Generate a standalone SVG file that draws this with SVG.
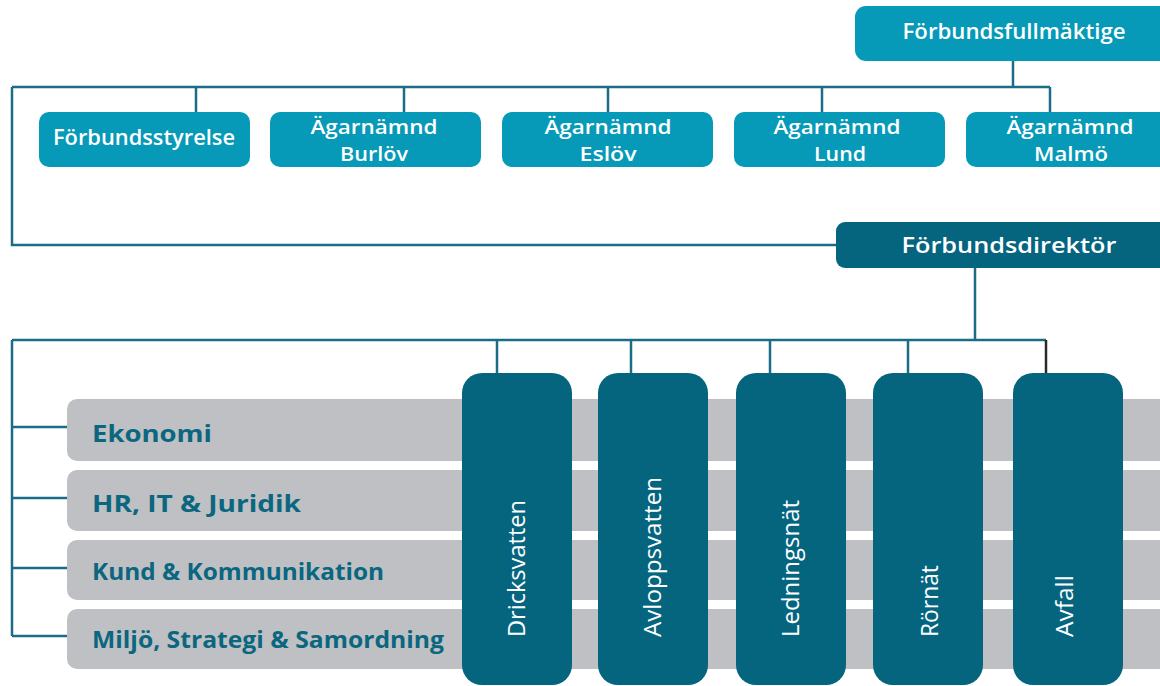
<svg xmlns="http://www.w3.org/2000/svg" width="1160" height="686" viewBox="0 0 1160 686">
<style>
.top{fill:#0699B8}
.dark{fill:#05657F}
.bar{fill:#BFC0C3}
.t{font-family:"Open Sans",Lato,sans-serif;font-weight:600;fill:#fff;font-size:21px;text-anchor:middle}
.t2{font-size:20px}
.bt{font-family:"Open Sans",Lato,sans-serif;font-weight:700;fill:#0B6680;font-size:24px}
.vt{font-family:"Open Sans",Lato,sans-serif;font-weight:500;fill:#fff;font-size:23px}
.ln{fill:none;stroke:#1C6C88;stroke-width:2.5}
</style>
<rect width="1160" height="686" fill="#fff"/>
<g id="connectors">
<path class="ln" d="M1013 61V87M12 87H1050M12 87V245H836M196 87V112M404 87V112M608 87V112M822 87V112M1050 87V112"/>
<path class="ln" d="M975 268V340M12 340H1046M12 340V636M12 427H68M12 498H68M12 568H68M12 636H68M497 340V373M631 340V373M770 340V373M908 340V373"/>
<path d="M1046 340V373" fill="none" stroke="#2a2a2a" stroke-width="2.5"/>
</g>
<g id="forbundsfullmaktige"><rect class="top" x="855" y="6" width="330" height="55" rx="11"/><text class="t" x="1014" y="39" textLength="223" lengthAdjust="spacingAndGlyphs">Förbundsfullmäktige</text></g>
<g id="forbundsstyrelse"><rect class="top" x="39" y="112" width="211" height="55" rx="10"/><text class="t" x="144" y="145" textLength="182" lengthAdjust="spacingAndGlyphs">Förbundsstyrelse</text></g>
<g id="burlov"><rect class="top" x="270" y="112" width="211" height="55" rx="10"/><text class="t t2" x="374" y="134" textLength="127" lengthAdjust="spacingAndGlyphs">Ägarnämnd</text><text class="t t2" x="374" y="161" textLength="68" lengthAdjust="spacingAndGlyphs">Burlöv</text></g>
<g id="eslov"><rect class="top" x="502" y="112" width="211" height="55" rx="10"/><text class="t t2" x="608" y="134" textLength="127" lengthAdjust="spacingAndGlyphs">Ägarnämnd</text><text class="t t2" x="608" y="161" textLength="57" lengthAdjust="spacingAndGlyphs">Eslöv</text></g>
<g id="lund"><rect class="top" x="734" y="112" width="211" height="55" rx="10"/><text class="t t2" x="837" y="134" textLength="127" lengthAdjust="spacingAndGlyphs">Ägarnämnd</text><text class="t t2" x="840" y="161" textLength="52" lengthAdjust="spacingAndGlyphs">Lund</text></g>
<g id="malmo"><rect class="top" x="966" y="112" width="215" height="55" rx="10"/><text class="t t2" x="1070" y="134" textLength="127" lengthAdjust="spacingAndGlyphs">Ägarnämnd</text><text class="t t2" x="1071" y="161" textLength="74" lengthAdjust="spacingAndGlyphs">Malmö</text></g>
<g id="forbundsdirektor"><rect class="dark" x="836" y="222" width="350" height="46" rx="9"/><text class="t" x="1009" y="253" font-size="23" textLength="215" lengthAdjust="spacingAndGlyphs">Förbundsdirektör</text></g>
<g id="ekonomi"><rect class="bar" x="67" y="399" width="1120" height="62" rx="10"/><text class="bt" x="92" y="442" textLength="120" lengthAdjust="spacingAndGlyphs">Ekonomi</text></g>
<g id="hr"><rect class="bar" x="67" y="470" width="1120" height="61" rx="10"/><text class="bt" x="92" y="512" textLength="209" lengthAdjust="spacingAndGlyphs">HR, IT &amp; Juridik</text></g>
<g id="kund"><rect class="bar" x="67" y="540" width="1120" height="60" rx="10"/><text class="bt" x="92" y="580" font-size="22" textLength="292" lengthAdjust="spacingAndGlyphs">Kund &amp; Kommunikation</text></g>
<g id="miljo"><rect class="bar" x="67" y="609" width="1120" height="60" rx="10"/><text class="bt" x="92" y="648" font-size="22" textLength="352" lengthAdjust="spacingAndGlyphs">Miljö, Strategi &amp; Samordning</text></g>
<g id="dricksvatten"><rect class="dark" x="462" y="373" width="110" height="312" rx="20"/><text class="vt" transform="translate(525 637) rotate(-90)" textLength="137" lengthAdjust="spacingAndGlyphs">Dricksvatten</text></g>
<g id="avloppsvatten"><rect class="dark" x="598" y="373" width="110" height="312" rx="20"/><text class="vt" transform="translate(661 637) rotate(-90)" textLength="160" lengthAdjust="spacingAndGlyphs">Avloppsvatten</text></g>
<g id="ledningsnat"><rect class="dark" x="736" y="373" width="110" height="312" rx="20"/><text class="vt" transform="translate(799 637) rotate(-90)" textLength="137" lengthAdjust="spacingAndGlyphs">Ledningsnät</text></g>
<g id="rornat"><rect class="dark" x="873" y="373" width="110" height="312" rx="20"/><text class="vt" transform="translate(938 637) rotate(-90)" textLength="72" lengthAdjust="spacingAndGlyphs">Rörnät</text></g>
<g id="avfall"><rect class="dark" x="1013" y="373" width="110" height="312" rx="20"/><text class="vt" transform="translate(1073 637) rotate(-90)" textLength="62" lengthAdjust="spacingAndGlyphs">Avfall</text></g>
</svg>
